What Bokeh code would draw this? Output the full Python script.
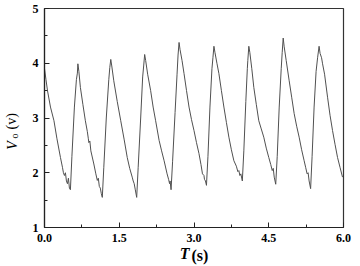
from bokeh.plotting import figure
from bokeh.models import FixedTicker, Range1d, LinearAxis, ColumnDataSource
from bokeh.embed import file_html
from bokeh.resources import INLINE

# time (s) and output voltage (V)
t_vals = [
    0.00, 0.03, 0.06, 0.12, 0.19, 0.25, 0.32, 0.36, 0.38, 0.40, 0.42, 0.44, 0.46, 0.48, 0.50, 0.52,
    0.55, 0.60, 0.64, 0.66, 0.67,
    0.69, 0.72, 0.77, 0.82, 0.86, 0.88, 0.89, 0.91, 0.93, 0.99, 1.03, 1.06, 1.08, 1.10, 1.12, 1.14, 1.16,
    1.19, 1.24, 1.29, 1.31, 1.33,
    1.35, 1.39, 1.46, 1.53, 1.60, 1.66, 1.71, 1.76, 1.78, 1.80, 1.82, 1.85,
    1.88, 1.93, 1.97, 1.99, 2.01,
    2.03, 2.07, 2.13, 2.18, 2.23, 2.30, 2.35, 2.40, 2.46, 2.49, 2.51, 2.52, 2.54,
    2.57, 2.62, 2.66, 2.68, 2.70,
    2.72, 2.76, 2.80, 2.85, 2.90, 2.95, 3.00, 3.05, 3.10, 3.14, 3.17, 3.20, 3.21, 3.23, 3.25,
    3.28, 3.32, 3.36, 3.38, 3.40,
    3.42, 3.46, 3.50, 3.55, 3.60, 3.65, 3.70, 3.75, 3.80, 3.85, 3.88, 3.90, 3.92, 3.94, 3.97,
    4.00, 4.04, 4.07, 4.08, 4.10,
    4.12, 4.16, 4.20, 4.25, 4.30, 4.35, 4.40, 4.45, 4.50, 4.54, 4.57, 4.59, 4.61, 4.64,
    4.67, 4.71, 4.75, 4.77, 4.79,
    4.81, 4.85, 4.91, 4.96, 5.01, 5.06, 5.11, 5.16, 5.21, 5.24, 5.27, 5.29, 5.31, 5.34,
    5.37, 5.41, 5.45, 5.48, 5.51,
    5.53, 5.56, 5.58, 5.62, 5.68, 5.73, 5.78, 5.83, 5.88, 5.93, 5.98,
]
v_vals = [
    3.90, 3.70, 3.50, 3.20, 2.95, 2.62, 2.28, 2.10, 2.00, 1.95, 2.00, 1.85, 1.80, 1.90, 1.72, 1.69,
    2.30, 3.20, 3.70, 3.82, 3.99,
    3.85, 3.56, 3.25, 2.95, 2.75, 2.62, 2.55, 2.58, 2.40, 2.16, 1.98, 1.86, 1.90, 1.75, 1.72, 1.62, 1.55,
    2.10, 3.00, 3.70, 3.92, 4.07,
    3.95, 3.68, 3.30, 2.95, 2.60, 2.28, 2.08, 1.92, 1.85, 1.80, 1.70, 1.55,
    2.10, 3.00, 3.75, 3.95, 4.16,
    4.05, 3.80, 3.50, 3.20, 2.95, 2.59, 2.40, 2.22, 1.98, 1.88, 1.80, 1.85, 1.69,
    2.20, 3.10, 3.80, 4.15, 4.38,
    4.25, 4.05, 3.81, 3.50, 3.20, 2.97, 2.77, 2.55, 2.35, 2.15, 1.98, 1.95, 1.88, 1.85, 1.77,
    2.30, 3.20, 3.90, 4.10, 4.31,
    4.20, 4.00, 3.81, 3.50, 3.20, 2.92, 2.65, 2.42, 2.22, 2.12, 2.02, 2.04, 1.95, 1.98, 1.85,
    2.40, 3.30, 3.90, 4.05, 4.31,
    4.20, 3.90, 3.56, 3.25, 2.95, 2.80, 2.65, 2.45, 2.28, 2.15, 2.04, 2.08, 1.92, 1.79,
    2.30, 3.20, 3.90, 4.20, 4.46,
    4.30, 4.05, 3.68, 3.38, 3.08, 2.85, 2.65, 2.42, 2.22, 2.10, 1.98, 2.00, 1.85, 1.71,
    2.30, 3.20, 3.85, 4.10, 4.31,
    4.18, 4.10, 3.99, 3.80, 3.38, 3.05, 2.77, 2.52, 2.28, 2.10, 1.92,
]

x_ticks = [0.0, 1.5, 3.0, 4.5, 6.0]
x_minor = [0.75, 2.25, 3.75, 5.25]
x_tick_labels = ["0.0", "1.5", "3.0", "4.5", "6.0"]
y_ticks = [1, 2, 3, 4, 5]
y_minor = [1.5, 2.5, 3.5, 4.5]
y_tick_labels = ["1", "2", "3", "4", "5"]

# axis title pieces: (text, position along the axis in data units, style, size)
x_title_parts = [("T", 2.81, "bold italic", "16px"), ("(s)", 3.12, "bold", "16px")]
y_title_parts = [("V", 2.50, "italic", "14px"), ("(v)", 2.94, "normal", "14px"),
                 ("o", 2.67, "normal", "10px")]

SERIF = "Liberation Serif"

p = figure(width=360, height=266, output_backend="svg", toolbar_location=None,
           x_range=Range1d(0, 6), y_range=Range1d(1, 5),
           min_border_left=44, min_border_right=17, min_border_top=8, min_border_bottom=39)
p.background_fill_color = "white"
p.border_fill_color = "white"
p.outline_line_color = "#333333"
p.outline_line_width = 1.2
p.xgrid.visible = False
p.ygrid.visible = False

src = ColumnDataSource(dict(t=t_vals, v=v_vals))
p.line("t", "v", source=src, line_color="#505050", line_width=1.0)

for ax, ticks, minor, labels in ((p.xaxis[0], x_ticks, x_minor, x_tick_labels),
                                 (p.yaxis[0], y_ticks, y_minor, y_tick_labels)):
    ax.ticker = FixedTicker(ticks=ticks, minor_ticks=minor)
    ax.major_label_overrides = {tk: lb for tk, lb in zip(ticks, labels)}
    ax.major_tick_in = 5
    ax.major_tick_out = 0
    ax.minor_tick_in = 3
    ax.minor_tick_out = 0
    ax.axis_line_color = "#222222"
    ax.axis_line_width = 1.2
    ax.major_tick_line_color = "#222222"
    ax.minor_tick_line_color = "#222222"
    ax.major_label_text_font = SERIF
    ax.major_label_text_font_style = "bold"
    ax.major_label_text_font_size = "12px"
    ax.major_label_text_color = "black"

p.xaxis[0].major_label_standoff = 6
p.yaxis[0].major_label_standoff = 6


def title_axis(text, pos, style, size, side, standoff):
    ax = LinearAxis(ticker=FixedTicker(ticks=[pos], minor_ticks=[]),
                    major_label_overrides={pos: text},
                    axis_line_color=None, major_tick_line_color=None,
                    minor_tick_line_color=None, major_tick_out=0, major_tick_in=0,
                    minor_tick_out=0, minor_tick_in=0,
                    major_label_standoff=standoff,
                    major_label_text_font=SERIF, major_label_text_font_style=style,
                    major_label_text_font_size=size, major_label_text_color="black")
    if side == "left":
        ax.major_label_orientation = "vertical"
    p.add_layout(ax, side)


# stacked title axes; later ones pulled back onto the first one's row
x_standoffs = [0, -18]
for (text, pos, style, size), so in zip(x_title_parts, x_standoffs):
    title_axis(text, pos, style, size, "below", so)

y_standoffs = [10, -18, -19]
for (text, pos, style, size), so in zip(y_title_parts, y_standoffs):
    title_axis(text, pos, style, size, "left", so)

open("out.html", "w").write(file_html(p, INLINE))
